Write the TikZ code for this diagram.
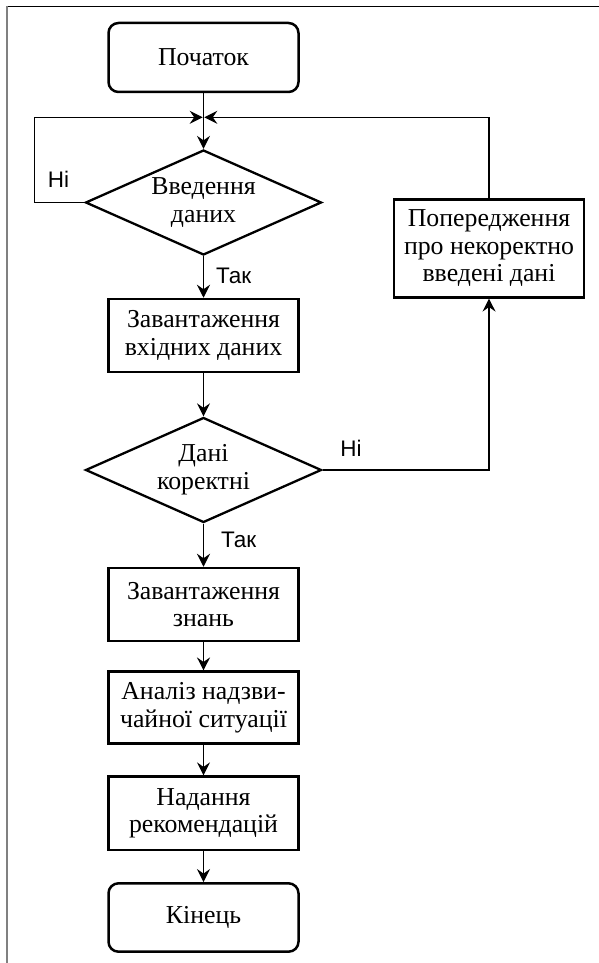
\documentclass[tikz,border=0pt]{standalone}
\usepackage{fontspec}
\setmainfont{Liberation Serif}
\newfontfamily\labfont{Liberation Sans}
\usetikzlibrary{shapes.geometric,arrows.meta}
\begin{document}
\begin{tikzpicture}[x=1pt,y=-1pt,
  txt/.style={font=\fontsize{25.8}{27.7}\selectfont, align=center, inner sep=0pt},
  procbox/.style={txt, draw, line width=2.5pt, minimum width=190pt},
  termbox/.style={procbox, rounded corners=10pt},
  decbox/.style={txt, draw, line width=2.3pt, shape=diamond, minimum width=236pt, minimum height=105pt, aspect=2.25},
  conn/.style={line width=1.4pt},
  arr/.style={conn, -{Stealth[length=13pt,width=13pt,inset=4.5pt]}},
  lab/.style={font=\labfont\fontsize{22.5}{23}\selectfont, inner sep=0pt}
]
\useasboundingbox (0,0) rectangle (599,963);
\fill[white] (0,0) rectangle (599,963);
% frame
\draw[line width=1.4pt] (7,6.7) -- (599,6.7);
\draw[line width=1.8pt, gray] (7.3,6) -- (7.3,963);

\node[termbox, minimum height=69pt] (start) at (203.5,57.5) {Початок};
\node[decbox] (dec1) at (203.5,202.5) {Введення\\даних};
\node[procbox, minimum height=73pt] (load) at (203.5,335.5) {Завантаження\\вхідних даних};
\node[decbox] (dec2) at (203.5,470) {Дані\\коректні};
\node[procbox, minimum height=73pt] (know) at (203.5,604.5) {Завантаження\\знань};
\node[procbox, minimum height=71.6pt] (anal) at (203.5,707.5) {Аналіз надзви-\\чайної ситуації};
\node[procbox, minimum height=73.3pt] (rec) at (203.5,813.3) {Надання\\рекомендацій};
\node[termbox, minimum height=68.4pt] (end) at (203.5,917.5) {Кінець};
\node[procbox, minimum height=98pt] (warn) at (489,248.3) {Попередження\\про некоректно\\введені дані};

\coordinate (j) at (203.5,117.3);
\coordinate (ll) at (34.4,117.3);
\coordinate (lb) at (34.4,202.5);
\coordinate (rt) at (489,117.3);
\coordinate (rb) at (489,470);

\draw[arr] (start.south) -- (dec1.north);
\draw[arr, shorten >=0.8pt] (dec1.west) -- (lb) -- (ll) -- (j);
\draw[arr, shorten >=0.8pt] (warn.north) -- (rt) -- (j);
\draw[arr] (dec1.south) -- (load.north);
\draw[arr] (load.south) -- (dec2.north);
\draw[arr] (dec2.east) -- (rb) -- (warn.south);
\draw[arr] (dec2.south) -- (know.north);
\draw[arr] (know.south) -- (anal.north);
\draw[arr] (anal.south) -- (rec.north);
\draw[arr] (rec.south) -- (end.north);

\node[lab] (n1) at (58.5,179) {Ні};
\node[lab] (n2) at (351,448) {Ні};
\node[lab, anchor=west] (t1) at (216,276) {Так};
\node[lab, anchor=west] (t2) at (221,540) {Так};
\end{tikzpicture}
\end{document}
